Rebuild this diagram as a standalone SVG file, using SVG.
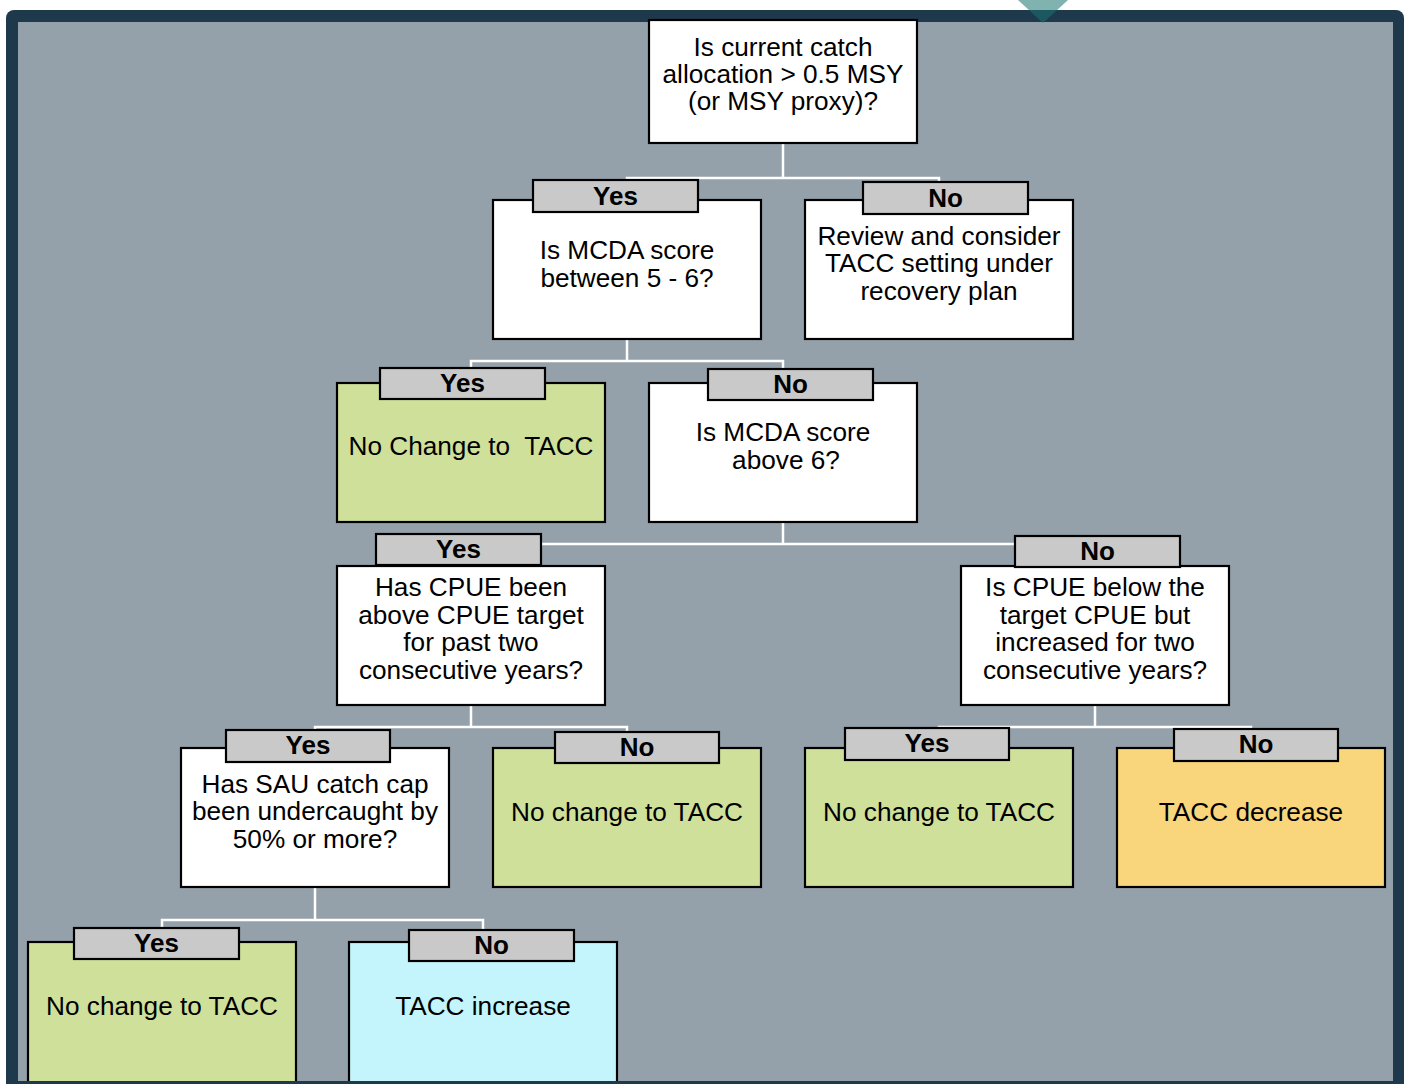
<svg xmlns="http://www.w3.org/2000/svg" width="1409" height="1084" viewBox="0 0 1409 1084">
<style>
.node{stroke:#000;stroke-width:2.2}
.white{fill:#ffffff}
.green{fill:#cfe09b}
.orange{fill:#f9d57b}
.cyan{fill:#c4f4fc}
.lab{fill:#c9c9c9;stroke:#000;stroke-width:2.2}
.t{font-family:"Liberation Sans",Arial,sans-serif;font-size:26.2px;fill:#000;text-anchor:middle}
.lt{font-family:"Liberation Sans",Arial,sans-serif;font-size:26px;font-weight:bold;fill:#000;text-anchor:middle}
.conn{stroke:#fff;stroke-width:2.5;fill:none}
</style>
<rect x="0" y="0" width="1409" height="1084" fill="#ffffff"/>
<rect x="6" y="10" width="1398" height="1090" rx="8" fill="#1f394c"/>
<rect x="18" y="22" width="1375" height="1059" fill="#95a1aa"/>

<g id="connectors">
<path class="conn" d="M783 143V178M627 200V178H939V200"/>
<path class="conn" d="M627 339V361M471 383V361H783V383"/>
<path class="conn" d="M783 522V544M471 566V544H1095V566"/>
<path class="conn" d="M471 705V727M315 748V727H627V748"/>
<path class="conn" d="M1095 705V727M939 748V727H1251V748"/>
<path class="conn" d="M315 887V920M162 942V920H483V942"/>
</g>

<g id="n1"><rect class="node white" x="649" y="20" width="268" height="123"/>
<text class="t"><tspan x="783" y="56">Is current catch</tspan><tspan x="783" y="83">allocation &gt; 0.5 MSY</tspan><tspan x="783" y="110">(or MSY proxy)?</tspan></text></g>

<g id="n2"><rect class="node white" x="493" y="200" width="268" height="139"/>
<text class="t"><tspan x="627" y="259">Is MCDA score</tspan><tspan x="627" y="287">between 5 - 6?</tspan></text>
<rect class="lab" x="533" y="180" width="165" height="32"/><text class="lt" x="615.5" y="205">Yes</text></g>

<g id="n3"><rect class="node white" x="805" y="200" width="268" height="139"/>
<text class="t"><tspan x="939" y="245">Review and consider</tspan><tspan x="939" y="272">TACC setting under</tspan><tspan x="939" y="300">recovery plan</tspan></text>
<rect class="lab" x="863" y="182" width="165" height="32"/><text class="lt" x="945.5" y="207">No</text></g>

<g id="n4"><rect class="node green" x="337" y="383" width="268" height="139"/>
<text class="t" x="471" y="455" xml:space="preserve">No Change to  TACC</text>
<rect class="lab" x="380" y="368" width="165" height="31"/><text class="lt" x="462.5" y="392">Yes</text></g>

<g id="n5"><rect class="node white" x="649" y="383" width="268" height="139"/>
<text class="t"><tspan x="783" y="441">Is MCDA score</tspan><tspan x="786" y="469">above 6?</tspan></text>
<rect class="lab" x="708" y="369" width="165" height="31"/><text class="lt" x="790.5" y="393">No</text></g>

<g id="n6"><rect class="node white" x="337" y="566" width="268" height="139"/>
<text class="t"><tspan x="471" y="596">Has CPUE been</tspan><tspan x="471" y="624">above CPUE target</tspan><tspan x="471" y="651">for past two</tspan><tspan x="471" y="679">consecutive years?</tspan></text>
<rect class="lab" x="376" y="534" width="165" height="31"/><text class="lt" x="458.5" y="558">Yes</text></g>

<g id="n7"><rect class="node white" x="961" y="566" width="268" height="139"/>
<text class="t"><tspan x="1095" y="596">Is CPUE below the</tspan><tspan x="1095" y="624">target CPUE but</tspan><tspan x="1095" y="651">increased for two</tspan><tspan x="1095" y="679">consecutive years?</tspan></text>
<rect class="lab" x="1015" y="536" width="165" height="31"/><text class="lt" x="1097.5" y="560">No</text></g>

<g id="n8"><rect class="node white" x="181" y="748" width="268" height="139"/>
<text class="t"><tspan x="315" y="793">Has SAU catch cap</tspan><tspan x="315" y="820">been undercaught by</tspan><tspan x="315" y="848">50% or more?</tspan></text>
<rect class="lab" x="226" y="730" width="164" height="32"/><text class="lt" x="308" y="754">Yes</text></g>

<g id="n9"><rect class="node green" x="493" y="748" width="268" height="139"/>
<text class="t" x="627" y="821">No change to TACC</text>
<rect class="lab" x="555" y="732" width="164" height="31"/><text class="lt" x="637" y="756">No</text></g>

<g id="n10"><rect class="node green" x="805" y="748" width="268" height="139"/>
<text class="t" x="939" y="821">No change to TACC</text>
<rect class="lab" x="845" y="728" width="164" height="32"/><text class="lt" x="927" y="752">Yes</text></g>

<g id="n11"><rect class="node orange" x="1117" y="748" width="268" height="139"/>
<text class="t" x="1251" y="821">TACC decrease</text>
<rect class="lab" x="1174" y="729" width="164" height="32"/><text class="lt" x="1256" y="753">No</text></g>

<g id="n12"><rect class="node green" x="28" y="942" width="268" height="160"/>
<text class="t" x="162" y="1015">No change to TACC</text>
<rect class="lab" x="74" y="928" width="165" height="31"/><text class="lt" x="156.5" y="952">Yes</text></g>

<g id="n13"><rect class="node cyan" x="349" y="942" width="268" height="160"/>
<text class="t" x="483" y="1015">TACC increase</text>
<rect class="lab" x="409" y="930" width="165" height="31"/><text class="lt" x="491.5" y="954">No</text></g>

<rect x="6" y="1081" width="1398" height="3" fill="#1f394c"/>
<polygon points="1018,0 1068,0 1043,23" fill="#187370" fill-opacity="0.55"/>
</svg>
